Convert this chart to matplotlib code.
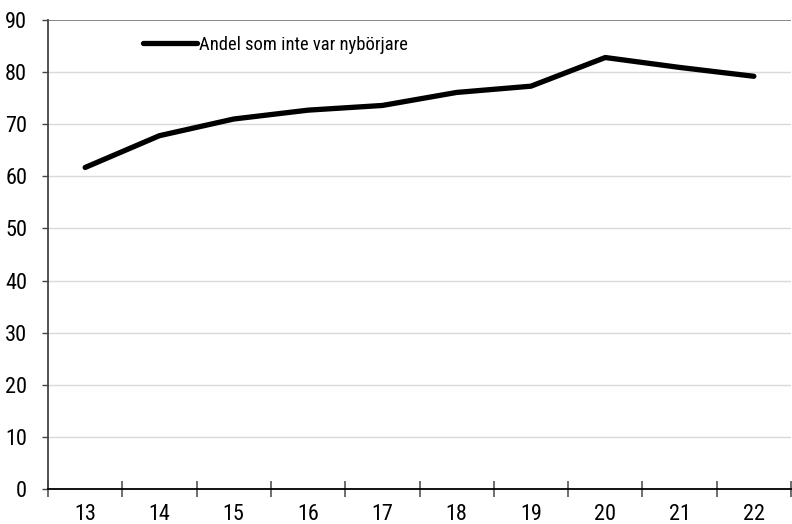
import numpy as np
import matplotlib
matplotlib.use("Agg")
import matplotlib.pyplot as plt
from matplotlib import font_manager

years = ["13", "14", "15", "16", "17", "18", "19", "20", "21", "22"]
andel = [61.7, 67.8, 71.0, 72.7, 73.6, 76.1, 77.3, 82.8, 80.9, 79.2]
series_label = "Andel som inte var nybörjare"
yticks = [0, 10, 20, 30, 40, 50, 60, 70, 80, 90]

# pick a narrow font if one is around
names = {f.name for f in font_manager.fontManager.ttflist}
fam = "DejaVu Sans"
for cand in ["Liberation Sans Narrow", "DejaVu Sans Condensed", "Roboto Condensed", "Open Sans Condensed", "Liberation Sans"]:
	if cand in names:
		fam = cand
		break
plt.rcParams["font.family"] = [fam, "DejaVu Sans"]

fig = plt.figure(figsize=(7.92, 5.24), dpi=100)
ax = fig.add_axes([48/792, 1-489/524, (791-48)/792, (489-20)/524])

x = np.arange(len(years))
ax.plot(x, andel, color="black", lw=3.8, solid_capstyle="round", solid_joinstyle="round", label=series_label, zorder=3)

ax.set_xlim(-0.5, len(years)-0.5)
ax.set_ylim(0, 90)
ax.set_yticks(yticks)
ax.set_yticklabels([str(v) for v in yticks], fontsize=16)
for v in yticks[1:-1]:
	ax.axhline(v, color="#d9d9d9", lw=1.0, zorder=1)
ax.axhline(90, color="#7f7f7f", lw=1.3, zorder=2)

# category labels in the middle, tick marks on boundaries
ax.set_xticks(np.arange(len(years)+1)-0.5)
ax.set_xticklabels([])
ax.set_xticks(x, minor=True)
ax.set_xticklabels(years, minor=True, fontsize=16)
ax.tick_params(axis="x", which="major", direction="inout", length=11, width=1.2, color="#555555")
ax.tick_params(axis="x", which="minor", length=0, pad=11)
ax.tick_params(axis="y", direction="out", length=4, width=1, color="#444444", pad=11)

ax.spines["top"].set_visible(False)
ax.spines["right"].set_visible(False)
ax.spines["left"].set_color("#444444")
ax.spines["left"].set_linewidth(1.3)
ax.spines["bottom"].set_color("black")
ax.spines["bottom"].set_linewidth(1.3)

leg = ax.legend(loc="upper left", bbox_to_anchor=(0.128, 0.966), frameon=False, fontsize=13.3,
	handlelength=2.9, handletextpad=0.1, borderaxespad=0, borderpad=0)

fig.savefig("out.png", dpi=100)
